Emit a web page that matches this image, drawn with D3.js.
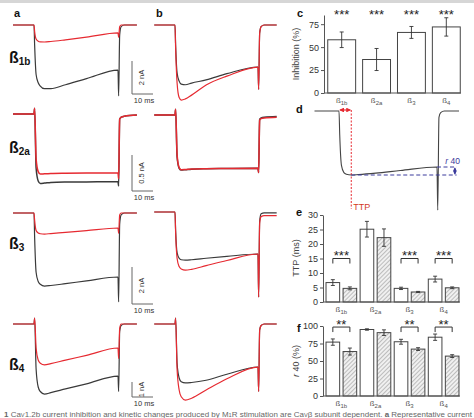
<!DOCTYPE html>
<html><head><meta charset="utf-8">
<script src="https://cdn.jsdelivr.net/npm/d3@7"></script>
<style>
body{margin:0;background:#fff;}
svg{display:block;font-family:"Liberation Sans",Arial,sans-serif;}
</style></head><body>
<svg id="chart" width="474" height="418"></svg>
<script>
// ================= DATA =================
const subunits = ["1b", "2a", "3", "4"];
// sampled time points of each current trace (ms, pulse from 0 to 40 ms)
const traceTime = [-10, 0, 0.3, 1, 2, 3, 5, 8, 15, 25, 40, 40.3, 40.8, 41.5, 43, 49];
// panel a: currents (nA), control (black) and after stimulation (red)
const aB1bBlack = [0, 0, -1.2, -3.0, -3.5, -3.7, -3.86, -3.86, -3.62, -3.25, -2.73, -4.3, -0.6, -0.1, 0, 0];
const aB1bRed   = [0, 0, -0.4, -0.85, -0.98, -1.02, -1.03, -1.0, -0.9, -0.74, -0.48, -0.75, -0.1, 0, 0, 0];
const aB2aBlack = [0, 0, 0.08, -0.75, -0.93, -0.965, -0.96, -0.95, -0.945, -0.943, -0.94, -1.0, -0.07, -0.045, -0.03, -0.015];
const aB2aRed   = [0, 0, 0.08, -0.62, -0.8, -0.835, -0.83, -0.825, -0.822, -0.82, -0.82, -0.9, -0.07, -0.045, -0.03, -0.015];
const aB3Black  = [0, 0, -1.3, -3.2, -3.7, -3.85, -3.95, -3.92, -3.82, -3.67, -3.46, -4.8, -0.6, -0.1, 0, 0];
const aB3Red    = [0, 0, -0.4, -0.95, -1.08, -1.12, -1.14, -1.11, -1.05, -0.95, -0.81, -1.1, -0.1, 0, 0, 0];
const aB4Black  = [0, 0, 0.4, -3.0, -4.2, -4.5, -4.67, -4.58, -4.33, -3.99, -3.47, -4.5, -0.5, -0.1, 0, 0];
const aB4Red    = [0, 0, 0.4, -1.6, -2.4, -2.62, -2.73, -2.64, -2.41, -2.09, -1.6, -2.3, -0.3, 0, 0, 0];
// panel b
const bB1bBlack = [0, 0, -1.2, -2.9, -3.4, -3.58, -3.62, -3.52, -3.33, -2.95, -2.55, -3.9, -0.5, -0.1, 0, 0];
const bB1bRed   = [0, 0, -1.4, -3.5, -4.4, -4.55, -4.48, -4.25, -3.64, -3.1, -2.55, -3.9, -0.5, -0.1, 0, 0];
const bB2aBlack = [0, 0, 0.08, -0.58, -0.74, -0.765, -0.76, -0.752, -0.746, -0.743, -0.74, -0.8, -0.06, -0.04, -0.03, -0.02];
const bB2aRed   = [0, 0, 0.08, -0.55, -0.73, -0.76, -0.757, -0.75, -0.745, -0.742, -0.74, -0.8, -0.07, -0.05, -0.04, -0.03];
const bB3Black  = [0, 0, -1.0, -2.2, -2.5, -2.58, -2.6, -2.58, -2.5, -2.4, -2.27, -4.6, -0.5, -0.1, -0.05, -0.05];
const bB3Red    = [0, 0, -1.1, -2.5, -2.95, -3.08, -3.14, -3.1, -2.9, -2.62, -2.27, -4.6, -0.6, -0.25, -0.2, -0.2];
const bB4Black  = [0, 0, 0.4, -2.6, -3.6, -3.85, -3.93, -3.9, -3.75, -3.35, -2.87, -4.5, -0.4, -0.1, 0, 0];
const bB4Red    = [0, 0, 0.4, -3.0, -4.4, -4.85, -5.07, -4.95, -4.4, -3.65, -2.87, -4.5, -0.4, -0.1, 0, 0];
// panel d: schematic trace
const dTrace    = [0, 0, -1.5, -3.4, -3.85, -3.95, -4.0, -3.97, -3.88, -3.72, -3.5, -6.2, -0.4, -0.1, 0, 0];
const dPeakTime = 5;     // TTP (ms)
const dR40Time = 40;     // r40 (ms)
// scale bars
const scaleBarNA = [2, 0.5, 2, 1];
const scaleBarMs = 10;
// panel c: inhibition (%)
const inhibition = [58, 36.5, 66, 72];
const inhibitionErr = [8.5, 12, 6.5, 10];
const inhibitionSig = ["***", "***", "***", "***"];
const inhibitionTicks = [0, 25, 50, 75];
// panel e: TTP (ms)
const ttpControl = [6.7, 25.1, 4.7, 7.9];
const ttpControlErr = [1.0, 2.7, 0.4, 1.0];
const ttpStim = [4.7, 22.2, 3.45, 4.9];
const ttpStimErr = [0.5, 3.0, 0.2, 0.3];
const ttpSig = ["***", "", "***", "***"];
const ttpTicks = [0, 5, 10, 15, 20, 25, 30];
// panel f: r40 (%)
const r40Control = [77, 95, 77.5, 84];
const r40ControlErr = [4.5, 1, 3.5, 4.5];
const r40Stim = [63.5, 90.5, 67, 57];
const r40StimErr = [5, 4, 2, 2];
const r40Sig = ["**", "", "**", "**"];
const r40Ticks = [0, 25, 50, 75, 100];

// ================= LAYOUT =================
const W = 474, H = 418;
const BLACK = "#3a3a3a", RED = "#e62a31", BLUE = "#3b3b9c", AX = "#555";
const svg = d3.select("#chart");
svg.append("rect").attr("x", 0).attr("y", 0).attr("width", W).attr("height", 3).attr("fill", "#d6d6d6");

const defs = svg.append("defs");
const pat = defs.append("pattern").attr("id", "hatch").attr("patternUnits", "userSpaceOnUse")
  .attr("width", 3).attr("height", 3).attr("patternTransform", "rotate(45)");
pat.append("rect").attr("width", 3).attr("height", 3).attr("fill", "#f0f0f0");
pat.append("line").attr("x1", 0).attr("y1", 0).attr("x2", 0).attr("y2", 3).attr("stroke", "#a0a0a0").attr("stroke-width", 1.3);
["red", "blue"].forEach(c => {
  const col = c === "red" ? RED : BLUE;
  defs.append("marker").attr("id", "arr-" + c).attr("viewBox", "0 0 6 6").attr("refX", 5).attr("refY", 3)
    .attr("markerWidth", 4).attr("markerHeight", 4).attr("orient", "auto-start-reverse")
    .append("path").attr("d", "M0,0 L6,3 L0,6 z").attr("fill", col);
});

function panelLabel(txt, x, y) {
  svg.append("text").attr("x", x).attr("y", y).attr("font-size", 11).attr("font-weight", "bold").attr("fill", "#111").text(txt);
}
panelLabel("a", 14, 17); panelLabel("b", 156, 17); panelLabel("c", 297, 17);
panelLabel("d", 296, 113); panelLabel("e", 296, 216); panelLabel("f", 297, 332);

// ---------- panels a & b: current traces ----------
const rowBaseA = [25, 114, 213, 324];
const rowBaseB = [25, 115, 212, 324];
const rowPxPerNA = [16.5, 72, 18.5, 15];
const rowLabelY = [63, 153, 249, 370];
const scaleBarBottom = [94, 191, 304, 397];
const xA = d3.scaleLinear().domain([0, 40]).range([34, 118]);
const xB = d3.scaleLinear().domain([0, 40]).range([175, 258]);
const traceA = [[aB1bBlack, aB1bRed], [aB2aBlack, aB2aRed], [aB3Black, aB3Red], [aB4Black, aB4Red]];
const traceB = [[bB1bBlack, bB1bRed], [bB2aBlack, bB2aRed], [bB3Black, bB3Red], [bB4Black, bB4Red]];

function drawTrace(xs, ys, vals, color, w) {
  const line = d3.line().x((d, i) => xs(traceTime[i])).y(d => ys(d)).curve(d3.curveMonotoneX);
  svg.append("path").attr("d", line(vals)).attr("fill", "none").attr("stroke", color)
    .attr("stroke-width", w).attr("stroke-linejoin", "round");
}

subunits.forEach((s, r) => {
  const yA = d3.scaleLinear().domain([0, -1]).range([rowBaseA[r], rowBaseA[r] + rowPxPerNA[r]]);
  const yB = d3.scaleLinear().domain([0, -1]).range([rowBaseB[r], rowBaseB[r] + rowPxPerNA[r]]);
  const w = r === 1 ? 1.5 : 1.2;
  drawTrace(xA, yA, traceA[r][0], BLACK, w);
  drawTrace(xA, yA, traceA[r][1], RED, w);
  drawTrace(xB, yB, traceB[r][0], BLACK, w);
  drawTrace(xB, yB, traceB[r][1], RED, w);
  // row label
  const t = svg.append("text").attr("x", 9).attr("y", rowLabelY[r]).attr("font-weight", "bold").attr("fill", "#111");
  t.append("tspan").attr("font-size", 16).text("ß");
  t.append("tspan").attr("font-size", 10).attr("dy", 2).text(s);
  // scale bar
  const bx = 132, by = scaleBarBottom[r];
  const vLen = yA(-scaleBarNA[r]) - yA(0);
  const hLen = xA(scaleBarMs) - xA(0);
  svg.append("path").attr("d", `M${bx},${by - vLen}V${by}H${bx + hLen}`).attr("fill", "none").attr("stroke", "#666").attr("stroke-width", 1);
  svg.append("text").attr("transform", `translate(${bx + 12},${by - vLen / 2}) rotate(-90)`)
    .attr("text-anchor", "middle").attr("font-size", 7.5).attr("fill", "#333").text(scaleBarNA[r] + " nA");
  svg.append("text").attr("x", bx + 12).attr("y", by + 9).attr("text-anchor", "middle")
    .attr("font-size", 7.5).attr("fill", "#333").text(scaleBarMs + " ms");
});

// ---------- panel d ----------
const xD = d3.scaleLinear().domain([0, 40]).range([339, 437]);
const yD = d3.scaleLinear().domain([0, -1]).range([111, 127]);
drawTrace(xD, yD, dTrace, "#444", 1.1);
const peakVal = d3.min(dTrace.slice(0, 11));
const r40Val = dTrace[10];
svg.append("line").attr("x1", xD(0) + 1).attr("x2", xD(dPeakTime) - 1).attr("y1", yD(0) - 1).attr("y2", yD(0) - 1)
  .attr("stroke", RED).attr("stroke-width", 1.2).attr("marker-start", "url(#arr-red)").attr("marker-end", "url(#arr-red)");
svg.append("line").attr("x1", xD(dPeakTime)).attr("x2", xD(dPeakTime)).attr("y1", yD(0) - 1).attr("y2", yD(-6.1))
  .attr("stroke", RED).attr("stroke-width", 1).attr("stroke-dasharray", "2,1.5");
svg.append("text").attr("x", xD(dPeakTime) + 2).attr("y", yD(-6.1) + 1).attr("font-size", 9).attr("fill", "#d33a1e").text("TTP");
svg.append("line").attr("x1", xD(dPeakTime)).attr("x2", xD(48)).attr("y1", yD(peakVal)).attr("y2", yD(peakVal))
  .attr("stroke", BLUE).attr("stroke-width", 1).attr("stroke-dasharray", "4,2.5");
svg.append("line").attr("x1", xD(dR40Time)).attr("x2", xD(48)).attr("y1", yD(r40Val)).attr("y2", yD(r40Val))
  .attr("stroke", BLUE).attr("stroke-width", 1).attr("stroke-dasharray", "4,2.5");
svg.append("line").attr("x1", xD(47.3)).attr("x2", xD(47.3)).attr("y1", yD(r40Val) + 1).attr("y2", yD(peakVal) - 1)
  .attr("stroke", BLUE).attr("stroke-width", 1).attr("marker-start", "url(#arr-blue)").attr("marker-end", "url(#arr-blue)");
const r40t = svg.append("text").attr("x", 460).attr("y", 164).attr("text-anchor", "end").attr("font-size", 8.5).attr("fill", BLUE);
r40t.append("tspan").attr("font-style", "italic").text("r");
r40t.append("tspan").text(" 40");

// ---------- bar panels ----------
function catLabel(x, y, s) {
  const t = svg.append("text").attr("x", x).attr("y", y).attr("text-anchor", "middle").attr("fill", "#555");
  t.append("tspan").attr("font-size", 8).text("ß");
  t.append("tspan").attr("font-size", 6).attr("dy", 2).text(s);
}
function yAxis(y, ticks, x) {
  const g = svg.append("g").attr("transform", `translate(${x},0)`)
    .call(d3.axisLeft(y).tickValues(ticks).tickSize(3).tickSizeOuter(0).tickPadding(2));
  g.select(".domain").attr("stroke", AX);
  g.selectAll(".tick line").attr("stroke", AX);
  g.selectAll(".tick text").attr("font-size", 9).attr("fill", "#333").attr("font-family", "Liberation Sans, Arial, sans-serif");
}
function errBar(x, y, v, e) {
  svg.append("path").attr("d", `M${x},${y(v - e)}V${y(v + e)}M${x - 2},${y(v - e)}H${x + 2}M${x - 2},${y(v + e)}H${x + 2}`)
    .attr("stroke", "#333").attr("stroke-width", 0.9).attr("fill", "none");
}
function yTitle(x, y, parts) {
  const t = svg.append("text").attr("transform", `translate(${x},${y}) rotate(-90)`).attr("text-anchor", "middle")
    .attr("font-size", 9).attr("fill", "#444");
  parts.forEach(p => t.append("tspan").attr("font-style", p[1] ? "italic" : "normal").text(p[0]));
}

// panel c
const xC = d3.scaleBand().domain(subunits).range([326, 462]).paddingInner(0.2).paddingOuter(0.05);
const yC = d3.scaleLinear().domain([0, 85]).range([93, 15]);
subunits.forEach((s, i) => {
  svg.append("rect").attr("x", xC(s)).attr("y", yC(inhibition[i])).attr("width", xC.bandwidth())
    .attr("height", yC(0) - yC(inhibition[i])).attr("fill", "#fff").attr("stroke", "#444").attr("stroke-width", 1);
  const cx = xC(s) + xC.bandwidth() / 2;
  errBar(cx, yC, inhibition[i], inhibitionErr[i]);
  svg.append("text").attr("x", cx).attr("y", 19).attr("text-anchor", "middle").attr("font-size", 13)
    .attr("fill", "#222").text(inhibitionSig[i]);
  catLabel(cx, 103, s);
});
svg.append("line").attr("x1", 324).attr("x2", 461).attr("y1", yC(0)).attr("y2", yC(0)).attr("stroke", AX);
yAxis(yC, inhibitionTicks, 324);
yTitle(299, 54, [["Inhibition (%)", false]]);

// grouped panels e & f
const xG = d3.scaleBand().domain(subunits).range([325, 460]).paddingInner(0.1).paddingOuter(0.03);
const xIn = d3.scaleBand().domain(["ctrl", "stim"]).range([0, xG.bandwidth()]).paddingInner(0.2);
function groupedPanel(y, ctrl, ctrlE, stim, stimE, sig, bracketVal, starDy, ticks, labelY) {
  subunits.forEach((s, i) => {
    const x0 = xG(s);
    [["ctrl", ctrl[i], ctrlE[i], "#fff"], ["stim", stim[i], stimE[i], "url(#hatch)"]].forEach(([k, v, e, f]) => {
      svg.append("rect").attr("x", x0 + xIn(k)).attr("y", y(v)).attr("width", xIn.bandwidth())
        .attr("height", y(0) - y(v)).attr("fill", f).attr("stroke", "#444").attr("stroke-width", 1);
      errBar(x0 + xIn(k) + xIn.bandwidth() / 2, y, v, e);
    });
    const c1 = x0 + xIn("ctrl") + xIn.bandwidth() / 2, c2 = x0 + xIn("stim") + xIn.bandwidth() / 2;
    if (sig[i]) {
      const by = y(bracketVal);
      svg.append("path").attr("d", `M${c1},${by + 5}V${by}H${c2}V${by + 5}`).attr("fill", "none").attr("stroke", "#333").attr("stroke-width", 1);
      svg.append("text").attr("x", (c1 + c2) / 2).attr("y", by + starDy).attr("text-anchor", "middle")
        .attr("font-size", 13).attr("fill", "#222").text(sig[i]);
    }
    catLabel(x0 + xG.bandwidth() / 2, labelY, s);
  });
  svg.append("line").attr("x1", 323).attr("x2", 460).attr("y1", y(0)).attr("y2", y(0)).attr("stroke", AX);
  yAxis(y, ticks, 323);
}
const yE = d3.scaleLinear().domain([0, 30]).range([302, 215]);
groupedPanel(yE, ttpControl, ttpControlErr, ttpStim, ttpStimErr, ttpSig, 15, 1, ttpTicks, 312);
yTitle(299, 258, [["TTP (ms)", false]]);
const yF = d3.scaleLinear().domain([0, 100]).range([396, 326]);
groupedPanel(yF, r40Control, r40ControlErr, r40Stim, r40StimErr, r40Sig, 98.5, 2, r40Ticks, 406);
yTitle(299, 361, [["r", true], [" 40 (%)", false]]);

// ---------- caption (bottom strip) ----------
const cap = svg.append("text").attr("x", 4).attr("y", 416.5).attr("font-size", 7)
  .attr("fill", "#666").attr("textLength", 468).attr("lengthAdjust", "spacingAndGlyphs");
cap.append("tspan").attr("font-weight", "bold").text("1");
cap.append("tspan").text(" Ca");
cap.append("tspan").attr("font-size", 5).text("V");
cap.append("tspan").text("1.2b current inhibition and kinetic changes produced by M");
cap.append("tspan").attr("font-size", 5).text("1");
cap.append("tspan").text("R stimulation are Ca");
cap.append("tspan").attr("font-size", 5).text("V");
cap.append("tspan").text("β subunit dependent. ");
cap.append("tspan").attr("font-weight", "bold").text("a");
cap.append("tspan").text(" Representative current");
</script>
</body></html>
